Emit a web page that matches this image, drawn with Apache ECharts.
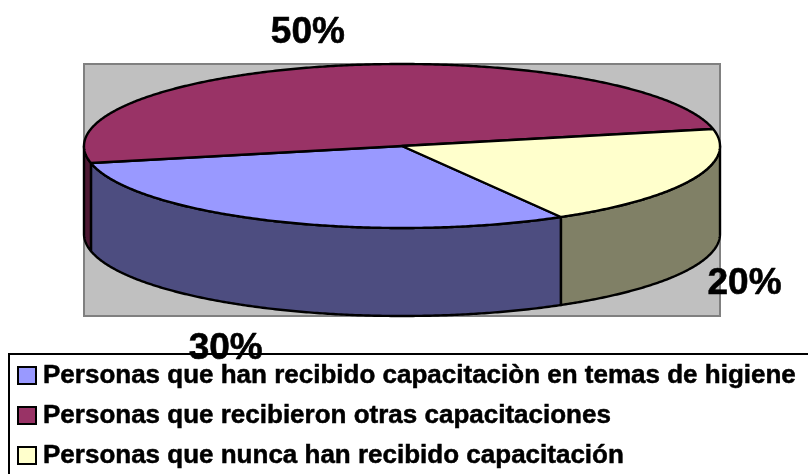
<!DOCTYPE html>
<html>
<head>
<meta charset="utf-8">
<style>html,body{margin:0;padding:0;background:#fff}#c{width:808px;height:474px}</style>
<script src="https://cdn.jsdelivr.net/npm/echarts@6/dist/echarts.min.js"></script>
</head>
<body>
<div id="c"></div>
<script>
const categories = [
  'Personas que han recibido capacitaciòn en temas de higiene',
  'Personas que recibieron otras capacitaciones',
  'Personas que nunca han recibido capacitación'
];
const shares = [30, 50, 20];
const topColors = ['#9999ff', '#993366', '#ffffcc'];
const sideColors = ['#4d4d80', '#4d1933', '#808066'];

// Layout of the tilted pie
const CX = 402, CY = 146, RX = 318, RY = 82, DEPTH = 88;
const FIRST_ANGLE = 60;            // where the first slice starts, degrees clockwise from 3 o'clock
const LABEL_OFFSET = [[-47, 128], [-28, -33], [52, 104]]; // label shift from the slice's rim midpoint
const FONT = '"Liberation Sans", Arial, sans-serif';

const total = shares.reduce((a, b) => a + b, 0);
function sliceRange(i) {
  const before = shares.slice(0, i).reduce((a, b) => a + b, 0);
  return [FIRST_ANGLE + before / total * 360, FIRST_ANGLE + (before + shares[i]) / total * 360];
}
function rim(t, dy) {
  const r = t * Math.PI / 180;
  return [CX + RX * Math.cos(r), CY + RY * Math.sin(r) + (dy || 0)];
}
function arc(a, b, dy) {
  const pts = [], n = Math.max(2, Math.ceil(Math.abs(b - a) * 2));
  for (let k = 0; k <= n; k++) pts.push(rim(a + (b - a) * k / n, dy));
  return pts;
}
function wallPieces(a, b) {
  // the visible front of the wall is where the parametric angle lies in 0..180 (mod 360)
  const out = [];
  for (const off of [0, 360, 720]) {
    const s = Math.max(a, off), e = Math.min(b, off + 180);
    if (e > s) out.push([s, e]);
  }
  return out;
}
function renderSlice(i) {
  return function () {
    const [a, b] = sliceRange(i);
    const children = [];
    wallPieces(a, b).forEach(([s, e]) => {
      children.push({
        type: 'polygon', z2: 1,
        shape: { points: arc(s, e, 0).concat(arc(e, s, DEPTH)) },
        style: { fill: sideColors[i], stroke: '#000', lineWidth: 2.4, lineJoin: 'round' }
      });
    });
    children.push({
      type: 'polygon', z2: 2,
      shape: { points: [[CX, CY]].concat(arc(a, b, 0)) },
      style: { fill: topColors[i], stroke: '#000', lineWidth: 2.4, lineJoin: 'round' }
    });
    const mid = rim((a + b) / 2, 0);
    children.push({
      type: 'text', z2: 5,
      style: {
        x: mid[0] + LABEL_OFFSET[i][0], y: mid[1] + LABEL_OFFSET[i][1],
        text: shares[i] + '%', fill: '#000', align: 'center', verticalAlign: 'middle',
        stroke: '#000', lineWidth: 0.6,
        font: 'bold 37px ' + FONT
      }
    });
    return { type: 'group', children };
  };
}

const chart = echarts.init(document.getElementById('c'), null, { renderer: 'canvas' });
chart.setOption({
  animation: false,
  backgroundColor: '#ffffff',
  graphic: [
    { type: 'rect', z: 0, silent: true,
      shape: { x: CX - RX, y: CY - RY, width: RX * 2, height: 252 },
      style: { fill: '#c0c0c0', stroke: '#808080', lineWidth: 2 } },
    { type: 'rect', z: 0, silent: true,
      shape: { x: 9, y: 354, width: 900, height: 200 },
      style: { fill: '#ffffff', stroke: '#000000', lineWidth: 2 } }
  ],
  legend: {
    orient: 'vertical', left: 17, top: 361, padding: 0,
    itemWidth: 18, itemHeight: 17, itemGap: 11, icon: 'rect',
    selectedMode: false,
    itemStyle: { borderColor: '#000', borderWidth: 2 },
    textStyle: { fontFamily: FONT, fontWeight: 'bold', fontSize: 26, color: '#000',
                 textBorderColor: '#000', textBorderWidth: 0.5,
                 lineHeight: 29, padding: [0, 0, 0, 2] },
    data: categories
  },
  series: categories.map((name, i) => ({
    type: 'custom', name, coordinateSystem: 'none', silent: true, z: 3,
    itemStyle: { color: topColors[i] },
    data: [shares[i]],
    renderItem: renderSlice(i)
  }))
});
</script>
</body>
</html>
